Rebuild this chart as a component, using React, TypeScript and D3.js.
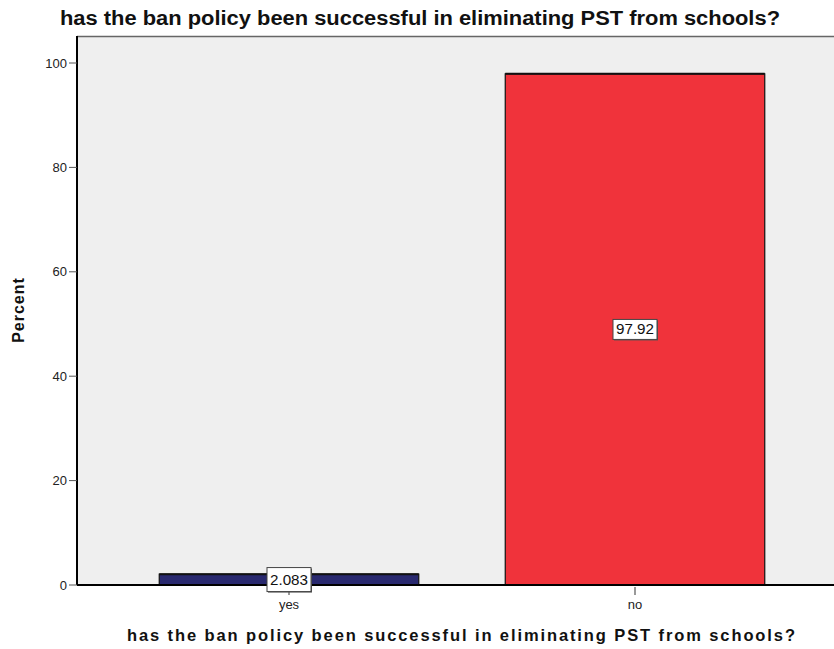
import React from "react";
import * as d3 from "d3";

const categories = ["yes", "no"];
const percents = [2.083, 97.92];
const valueLabels = ["2.083", "97.92"];
const yTicks = [0, 20, 40, 60, 80, 100];
const barColors = ["#29296f", "#f0333b"];

const titleText = "has the ban policy been successful in eliminating PST from schools?";

const W = 834;
const H = 649;
const plotLeft = 77;
const plotTop = 36;
const plotBottom = 585;
const plotRight = 840;

export default function App() {
  const y = d3.scaleLinear().domain([0, 100]).range([plotBottom, 63]);
  const x = d3.scaleBand<string>().domain(categories).range([116, 808]).paddingInner(0.25).paddingOuter(0.125);
  const font = "'Liberation Sans', Arial, sans-serif";

  return (
    <svg width={W} height={H} style={{ position: "absolute", left: 0, top: 0, background: "#fff" }}>
      <rect x={plotLeft} y={plotTop} width={plotRight - plotLeft} height={plotBottom - plotTop} fill="#efefef" />
      <line x1={plotLeft} x2={plotRight} y1={plotTop + 0.5} y2={plotTop + 0.5} stroke="#666" strokeWidth={1.5} />

      {categories.map((c, i) => {
        const x0 = x(c)!;
        const bw = x.bandwidth();
        const yt = y(percents[i]);
        return (
          <g key={c}>
            <rect x={x0} y={yt} width={bw} height={plotBottom - yt} fill={barColors[i]} stroke="#111" strokeWidth={1.2} />
            <line x1={x0} x2={x0 + bw} y1={yt} y2={yt} stroke="#111" strokeWidth={2} />
          </g>
        );
      })}

      {/* axes */}
      <line x1={plotLeft} x2={plotLeft} y1={plotTop} y2={plotBottom} stroke="#000" strokeWidth={2} />
      <line x1={plotLeft} x2={plotRight} y1={plotBottom} y2={plotBottom} stroke="#000" strokeWidth={2} />

      {yTicks.map((t) => (
        <g key={t}>
          <line x1={plotLeft - 8} x2={plotLeft} y1={y(t)} y2={y(t)} stroke="#555" strokeWidth={1} />
          <text x={plotLeft - 10} y={y(t)} dy="0.35em" textAnchor="end" fontFamily={font} fontSize={13} fill="#222">
            {t}
          </text>
        </g>
      ))}

      {categories.map((c) => {
        const cx = x(c)! + x.bandwidth() / 2;
        return (
          <g key={c}>
            <line x1={cx} x2={cx} y1={plotBottom + 2} y2={plotBottom + 10} stroke="#777" strokeWidth={1.5} />
            <text x={cx} y={609} textAnchor="middle" fontFamily={font} fontSize={13} fill="#222">
              {c}
            </text>
          </g>
        );
      })}

      {/* value labels at bar midpoints */}
      {categories.map((c, i) => {
        const cx = x(c)! + x.bandwidth() / 2;
        const cy = (y(percents[i]) + plotBottom) / 2;
        const bw = 44;
        const bh = i === 0 ? 24 : 20;
        return (
          <g key={c}>
            <rect x={cx - bw / 2 + 1} y={cy - bh / 2 + 1} width={bw} height={bh} fill="#555" />
            <rect x={cx - bw / 2} y={cy - bh / 2} width={bw} height={bh} fill="#fff" stroke="#444" strokeWidth={1} />
            <text x={cx} y={cy} dy="0.36em" textAnchor="middle" fontFamily={font} fontSize={14} fill="#111" textLength={38} lengthAdjust="spacingAndGlyphs">
              {valueLabels[i]}
            </text>
          </g>
        );
      })}

      <text x={420} y={25} textAnchor="middle" fontFamily={font} fontSize={20} fontWeight="bold" fill="#111" textLength={720} lengthAdjust="spacingAndGlyphs">
        {titleText}
      </text>
      <text x={461} y={641} textAnchor="middle" fontFamily={font} fontSize={16.5} fontWeight="bold" fill="#111" textLength={668} lengthAdjust="spacing">
        {titleText}
      </text>
      <text transform="translate(24,310) rotate(-90)" textAnchor="middle" fontFamily={font} fontSize={16} fontWeight="bold" fill="#111" letterSpacing={1}>
        Percent
      </text>
    </svg>
  );
}
